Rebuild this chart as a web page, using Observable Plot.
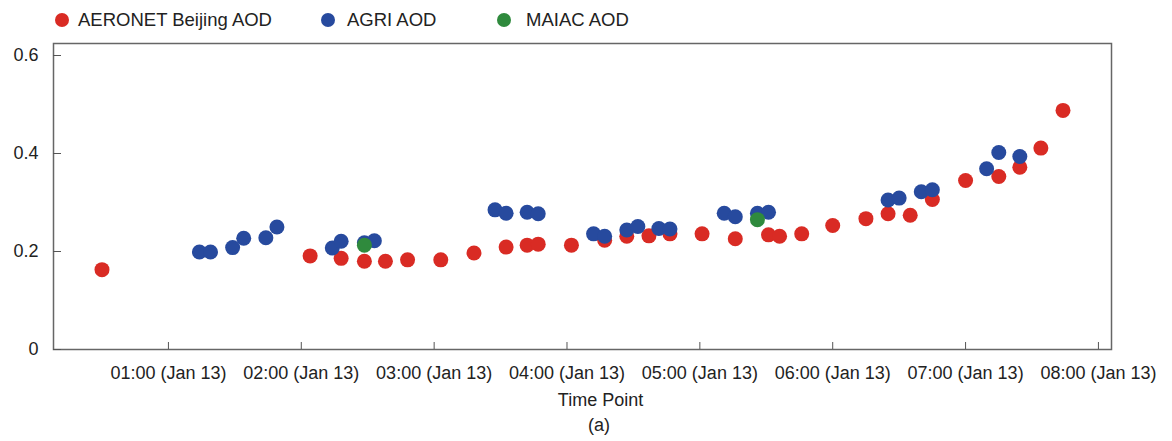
<!DOCTYPE html>
<html>
<head>
<meta charset="utf-8">
<script src="https://cdn.jsdelivr.net/npm/d3@7"></script>
<script src="https://cdn.jsdelivr.net/npm/@observablehq/plot@0.6"></script>
<style>
  html, body { margin: 0; padding: 0; background: #fff; }
  body { width: 1172px; height: 441px; position: relative; overflow: hidden; font-family: "Liberation Sans", Arial, sans-serif; color: #222; }
  #legend { position: absolute; left: 0; top: 0; height: 35px; width: 1172px; }
  .lg { position: absolute; top: 9px; font-size: 18.5px; line-height: 22px; white-space: nowrap; }
  .sw { position: absolute; top: 13px; width: 14px; height: 14px; border-radius: 50%; }
  #chart { position: absolute; left: 0; top: 35px; }
  #caption { position: absolute; top: 415px; left: 0; width: 1198px; text-align: center; font-size: 18px; }
</style>
</head>
<body>
<div id="legend"></div>
<div id="chart"></div>
<div id="caption">(a)</div>
<script>
// ---- data ----
const seriesNames = ["AERONET Beijing AOD", "AGRI AOD", "MAIAC AOD"];
const seriesColors = ["#d92b24", "#274a9e", "#2f8a3d"];

const aeronetTime = ["00:30","02:04","02:18","02:28:30","02:38","02:48","03:03","03:18","03:32:30","03:42","03:47","04:02","04:17","04:27","04:37","04:46:30","05:01","05:16","05:31","05:36","05:46","06:00","06:15","06:25","06:35","06:45","07:00","07:15","07:24:30","07:34","07:44"];
const aeronetAod = [0.163,0.191,0.186,0.180,0.180,0.183,0.183,0.197,0.209,0.213,0.215,0.213,0.223,0.231,0.232,0.236,0.236,0.226,0.234,0.231,0.236,0.253,0.267,0.277,0.274,0.306,0.345,0.353,0.372,0.411,0.488];

const agriTime = ["01:14","01:19","01:29","01:34","01:44","01:49","02:14","02:18","02:28:30","02:33","03:27:30","03:32:30","03:42","03:47","04:12","04:17","04:27","04:32","04:41:30","04:46:30","05:11","05:16","05:26","05:31","06:25","06:30","06:40","06:45","07:09:30","07:15","07:24:30"];
const agriAod = [0.199,0.199,0.208,0.227,0.228,0.250,0.207,0.221,0.218,0.222,0.285,0.278,0.280,0.277,0.236,0.231,0.244,0.251,0.247,0.246,0.278,0.271,0.278,0.280,0.305,0.309,0.322,0.326,0.369,0.402,0.394];

const maiacTime = ["02:28:30","05:26"];
const maiacAod = [0.213,0.265];

const xTickTimes = ["01:00","02:00","03:00","04:00","05:00","06:00","07:00","08:00"];
const yTickValues = [0, 0.2, 0.4, 0.6];

// ---- helpers ----
const day = "2020-01-13";
const toDate = t => new Date(`${day}T${t.length === 5 ? t + ":00" : t}Z`);
const mk = (times, vals, s) => times.map((t, i) => ({time: toDate(t), aod: vals[i], series: s}));

const data = [
  ...mk(aeronetTime, aeronetAod, seriesNames[0]),
  ...mk(agriTime, agriAod, seriesNames[1]),
  ...mk(maiacTime, maiacAod, seriesNames[2])
];
const xTicks = xTickTimes.map(toDate);
const fmtX = d3.utcFormat("%H:%M (%b %d)");

// ---- legend ----
const legendPos = [[55, 78], [321, 347], [497, 526]];
const legend = document.getElementById("legend");
seriesNames.forEach((n, i) => {
  const sw = document.createElement("div");
  sw.className = "sw"; sw.style.left = legendPos[i][0] + "px"; sw.style.background = seriesColors[i];
  const lb = document.createElement("div");
  lb.className = "lg"; lb.style.left = legendPos[i][1] + "px"; lb.textContent = n;
  legend.append(sw, lb);
});

// ---- chart ----
const W = 1172, mL = 53, mR = 61, mT = 8, mB = 65, H = 314 + mB;
const frameW = W - mL - mR, frameH = H - mT - mB;

const chart = Plot.plot({
  width: W, height: H,
  marginLeft: mL, marginRight: mR, marginTop: mT, marginBottom: mB,
  style: {fontFamily: '"Liberation Sans", Arial, sans-serif', fontSize: "18px", color: "#222", background: "transparent"},
  x: {type: "utc", domain: [toDate("00:08:06"), toDate("08:05:54")]},
  y: {domain: [0, 0.6245]},
  color: {domain: seriesNames, range: seriesColors},
  marks: [
    Plot.frame({stroke: "#666", strokeWidth: 1.5}),
    Plot.tickX(xTicks, {x: d => d, stroke: "#555", insetTop: frameH - 7}),
    Plot.tickY(yTickValues, {y: d => d, stroke: "#555", insetRight: frameW - 8}),
    Plot.axisX(xTicks, {tickSize: 0, tickPadding: 17, tickFormat: fmtX, label: null, fontSize: 18}),
    Plot.axisY(yTickValues, {tickSize: 0, tickPadding: 15, tickFormat: d => d === 0 ? "0" : d.toFixed(1), label: null, fontSize: 18}),
    Plot.dot(data, {x: "time", y: "aod", fill: "series", r: 7.5, stroke: "none"}),
    Plot.text(["Time Point"], {frameAnchor: "bottom", dx: 18, dy: 56, fontSize: 18, fill: "#222"})
  ]
});
document.getElementById("chart").append(chart);
</script>
</body>
</html>
